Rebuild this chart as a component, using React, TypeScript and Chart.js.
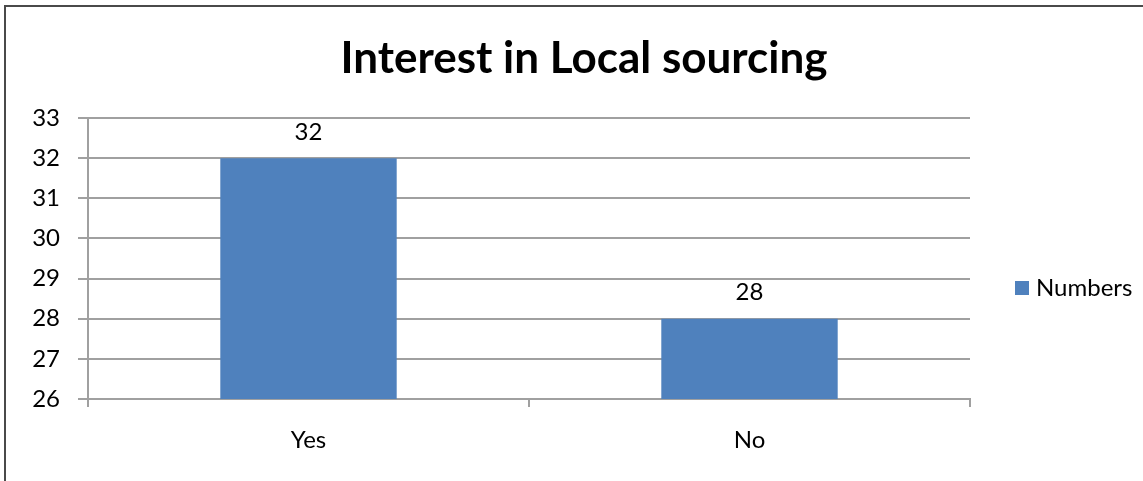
import React, { useEffect, useRef } from "react";
import { Chart, registerables } from "chart.js";

Chart.register(...registerables);

const categories = ["Yes", "No"];
const numbers = [32, 28];
const seriesLabel = "Numbers";
const titleText = "Interest in Local sourcing";
const yMin = 26;
const yMax = 33;
const yStep = 1;

const FONT = "Lato, 'Open Sans', sans-serif";
const BAR = "#4F81BD";
const GRID = "#a0a0a0";

export default function App() {
  const ref = useRef<HTMLCanvasElement>(null);

  useEffect(() => {
    if (!ref.current) return;
    const decor = {
      id: "decor",
      afterDatasetsDraw(chart: any) {
        const ctx = chart.ctx;
        const area = chart.chartArea;
        ctx.save();
        ctx.fillStyle = "#000";
        ctx.textAlign = "center";
        ctx.textBaseline = "middle";
        ctx.font = `24px ${FONT}`;
        chart.getDatasetMeta(0).data.forEach((bar: any, i: number) => {
          ctx.fillText(String(numbers[i]), bar.x, bar.y - 26);
        });
        ctx.font = `bold 44px ${FONT}`;
        ctx.fillText(titleText, 584, 59);
        ctx.fillStyle = BAR;
        ctx.fillRect(area.right + 45, 281, 14, 14);
        ctx.fillStyle = "#000";
        ctx.textAlign = "left";
        ctx.font = `24px ${FONT}`;
        ctx.fillText(seriesLabel, area.right + 66, 288);
        ctx.restore();
      },
    };

    const chart = new Chart(ref.current, {
      type: "bar",
      data: {
        labels: categories,
        datasets: [
          {
            label: seriesLabel,
            data: numbers,
            backgroundColor: BAR,
            borderWidth: 0,
            categoryPercentage: 1,
            barPercentage: 0.4,
          },
        ],
      },
      options: {
        responsive: false,
        animation: false,
        layout: { padding: { left: 0, right: 173, top: 118, bottom: 0 } },
        plugins: {
          legend: { display: false },
          title: { display: false },
          tooltip: { enabled: false },
        },
        scales: {
          x: {
            afterFit: (s: any) => {
              s.height = 82;
            },
            grid: {
              offset: true,
              drawOnChartArea: false,
              drawTicks: true,
              tickLength: 8,
              color: GRID,
              lineWidth: 2,
            },
            border: { display: true, color: GRID, width: 2 },
            ticks: {
              color: "#000",
              font: { family: FONT, size: 24 },
              padding: 19,
            },
          },
          y: {
            min: yMin,
            max: yMax,
            afterFit: (s: any) => {
              s.width = 88;
            },
            grid: {
              color: GRID,
              lineWidth: 2,
              drawTicks: true,
              tickLength: 10,
            },
            border: { display: true, color: GRID, width: 2 },
            ticks: {
              stepSize: yStep,
              color: "#000",
              font: { family: FONT, size: 24 },
              padding: 18,
            },
          },
        },
      },
      plugins: [decor],
    });
    return () => chart.destroy();
  }, []);

  return (
    <div
      style={{
        position: "fixed",
        left: 0,
        top: 0,
        width: 1143,
        height: 481,
        background: "#fff",
        overflow: "hidden",
      }}
    >
      <canvas ref={ref} width={1143} height={481} style={{ position: "absolute", left: 0, top: 0 }} />
      <div
        style={{
          position: "absolute",
          left: 4,
          top: 5,
          width: 1200,
          height: 600,
          borderLeft: "2px solid #4a4a4a",
          borderTop: "2px solid #4a4a4a",
          pointerEvents: "none",
        }}
      />
    </div>
  );
}
